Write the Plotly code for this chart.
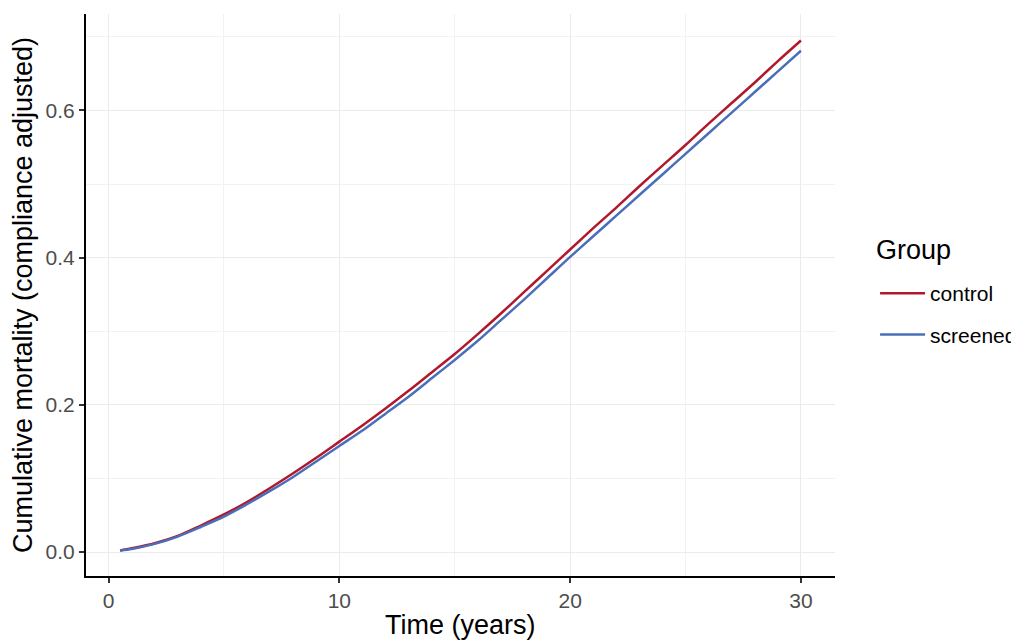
import plotly.graph_objects as go

time_years = [0.5, 1, 2, 3, 4, 5, 6, 7, 8, 9, 10, 11, 12, 13, 14, 15, 16, 17, 18, 19, 20,
              21, 22, 23, 24, 25, 26, 27, 28, 29, 30]
control = [0.002, 0.005, 0.012, 0.022, 0.036, 0.051, 0.068, 0.087, 0.107, 0.128, 0.150,
           0.172, 0.195, 0.219, 0.244, 0.269, 0.296, 0.324, 0.353, 0.382, 0.411,
           0.440, 0.468, 0.497, 0.525, 0.553, 0.582, 0.610, 0.638, 0.667, 0.695]
screened = [0.002, 0.004, 0.011, 0.021, 0.034, 0.048, 0.065, 0.083, 0.102, 0.123, 0.144,
            0.165, 0.188, 0.211, 0.236, 0.261, 0.287, 0.315, 0.343, 0.372, 0.401,
            0.429, 0.457, 0.485, 0.513, 0.541, 0.569, 0.597, 0.625, 0.653, 0.681]
groups = ["control", "screened"]
colors = ["#B2182B", "#4A6FBA"]
x_ticks = [0, 10, 20, 30]
y_ticks = [0.0, 0.2, 0.4, 0.6]
y_tick_labels = ["0.0", "0.2", "0.4", "0.6"]

FONT = "Liberation Sans, Arial, sans-serif"

fig = go.Figure()
for name, vals, col in zip(groups, [control, screened], colors):
    fig.add_trace(go.Scatter(x=time_years, y=vals, mode="lines", name=name,
                             legendgroup=name,
                             line=dict(color=col, width=2.5, shape="spline", smoothing=0.8)))

axis_common = dict(
    showline=True, linecolor="black", linewidth=2,
    ticks="outside", ticklen=5, tickwidth=2, tickcolor="#333333",
    gridcolor="#EBEBEB", gridwidth=1, zeroline=False,
    tickfont=dict(family=FONT, size=21, color="#4D4D4D"),
    mirror=False,
)

fig.update_xaxes(**axis_common, range=[-0.975, 31.475], tickvals=x_ticks,
                 minor=dict(dtick=5, tick0=0, showgrid=True, gridcolor="#F2F2F2", gridwidth=1, ticks=""))
fig.update_yaxes(**axis_common, range=[-0.0326, 0.731], tickvals=y_ticks, ticktext=y_tick_labels,
                 minor=dict(dtick=0.1, tick0=0, showgrid=True, gridcolor="#F2F2F2", gridwidth=1, ticks=""),
                 title=dict(text="Cumulative mortality (compliance adjusted)",
                            font=dict(family=FONT, size=27, color="black"), standoff=5))

# x-axis title placed as an annotation so it stays inside the fixed bottom margin
fig.add_annotation(text="Time (years)", xref="paper", yref="paper", x=0.5, y=-0.1157,
                   xanchor="center", yanchor="bottom", showarrow=False, borderpad=0,
                   font=dict(family=FONT, size=27, color="black"))

fig.add_annotation(text="Group", xref="paper", yref="paper", x=1.0527, y=0.5808,
                   xanchor="left", yanchor="middle", showarrow=False,
                   font=dict(family=FONT, size=27, color="black"))

# the page body adds an 8px offset, so the figure is sized to the visible area
fig.update_layout(
    width=1011, height=632,
    margin=dict(l=78, r=184, t=6, b=64, autoexpand=False),
    plot_bgcolor="white", paper_bgcolor="white",
    font=dict(family=FONT),
    legend=dict(font=dict(family=FONT, size=21, color="black"),
                x=1.0535, xanchor="left", y=0.4662, yanchor="middle",
                tracegroupgap=11, itemwidth=45, bgcolor="rgba(0,0,0,0)"),
    showlegend=True,
)

fig.write_html("out.html")
